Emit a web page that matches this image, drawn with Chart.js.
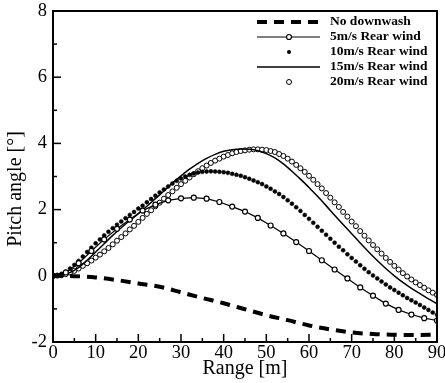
<!DOCTYPE html>
<html>
<head>
<meta charset="utf-8">
<script src="https://cdn.jsdelivr.net/npm/chart.js@4.4.1/dist/chart.umd.min.js"></script>
<style>
html,body{margin:0;padding:0;background:#fff;}
canvas{display:block;}
</style>
</head>
<body>
<canvas id="c" width="445" height="383"></canvas>
<script>
// ---- data ----
const seriesLabels = ['No downwash','5m/s Rear wind','10m/s Rear wind','15m/s Rear wind','20m/s Rear wind'];

const xNoDownwash = [0,5,10,15,20,25,30,35,40,45,50,55,60,65,70,75,80,85,90];
const yNoDownwash = [0,-0.01,-0.05,-0.13,-0.23,-0.33,-0.5,-0.67,-0.83,-1.01,-1.19,-1.34,-1.5,-1.62,-1.71,-1.76,-1.78,-1.79,-1.78];

const x5 = [0,3,6,9,12,15,18,21,24,27,30,33,36,39,42,45,48,51,54,57,60,63,66,69,72,75,78,81,84,87,90];
const y5 = [0,0.1,0.38,0.75,1.1,1.42,1.7,1.97,2.15,2.28,2.34,2.36,2.33,2.23,2.09,1.94,1.75,1.52,1.28,1.02,0.75,0.47,0.19,-0.08,-0.35,-0.6,-0.84,-1.03,-1.17,-1.28,-1.35];

const x10 = [0,1,2,3,4,5,6,7,8,9,10,11,12,13,14,15,16,17,18,19,20,21,22,23,24,25,26,27,28,29,30,31,32,33,34,35,36,37,38,39,40,41,42,43,44,45,46,47,48,49,50,51,52,53,54,55,56,57,58,59,60,61,62,63,64,65,66,67,68,69,70,71,72,73,74,75,76,77,78,79,80,81,82,83,84,85,86,87,88,89,90];
const y10 = [0,0.02,0.06,0.13,0.22,0.33,0.45,0.58,0.72,0.85,0.98,1.1,1.22,1.33,1.44,1.54,1.64,1.74,1.84,1.93,2.03,2.12,2.22,2.32,2.42,2.52,2.61,2.7,2.79,2.87,2.94,3.0,3.05,3.09,3.12,3.14,3.15,3.155,3.15,3.14,3.13,3.11,3.08,3.05,3.02,2.98,2.93,2.88,2.83,2.77,2.7,2.63,2.55,2.47,2.38,2.28,2.18,2.07,1.96,1.84,1.72,1.6,1.48,1.36,1.24,1.12,1.0,0.88,0.77,0.65,0.54,0.43,0.32,0.21,0.11,0.01,-0.08,-0.17,-0.26,-0.35,-0.43,-0.51,-0.59,-0.67,-0.74,-0.81,-0.88,-0.96,-1.03,-1.11,-1.18];

const x15 = [0,2,4,6,8,10,12,14,16,18,20,22,24,26,28,30,32,34,36,38,40,42,44,46,48,50,52,54,56,58,60,62,64,66,68,70,72,74,76,78,80,82,84,86,88,90];
const y15 = [0,0.02,0.1,0.25,0.47,0.72,0.97,1.22,1.45,1.67,1.88,2.1,2.33,2.56,2.8,3.02,3.22,3.4,3.55,3.67,3.76,3.81,3.83,3.82,3.78,3.69,3.56,3.38,3.16,2.92,2.67,2.4,2.12,1.83,1.55,1.27,0.99,0.72,0.46,0.22,0.0,-0.2,-0.38,-0.54,-0.7,-0.84];

const x20 = [0,1,2,3,4,5,6,7,8,9,10,11,12,13,14,15,16,17,18,19,20,21,22,23,24,25,26,27,28,29,30,31,32,33,34,35,36,37,38,39,40,41,42,43,44,45,46,47,48,49,50,51,52,53,54,55,56,57,58,59,60,61,62,63,64,65,66,67,68,69,70,71,72,73,74,75,76,77,78,79,80,81,82,83,84,85,86,87,88,89,90];
const y20 = [0,0.005,0.02,0.05,0.1,0.15,0.22,0.3,0.38,0.46,0.55,0.64,0.74,0.84,0.95,1.06,1.17,1.28,1.4,1.51,1.63,1.75,1.87,1.98,2.1,2.21,2.33,2.44,2.55,2.66,2.77,2.87,2.97,3.07,3.16,3.25,3.33,3.41,3.48,3.54,3.6,3.65,3.7,3.74,3.77,3.79,3.81,3.82,3.82,3.81,3.8,3.77,3.74,3.68,3.62,3.54,3.45,3.35,3.25,3.14,3.02,2.9,2.77,2.64,2.5,2.36,2.22,2.08,1.93,1.79,1.64,1.5,1.35,1.21,1.07,0.93,0.8,0.67,0.54,0.42,0.3,0.19,0.08,-0.02,-0.11,-0.2,-0.28,-0.36,-0.44,-0.51,-0.58];

const xTickValues = [0,10,20,30,40,50,60,70,80,90];
const yTickValues = [-2,0,2,4,6,8];
const xTitle = 'Range [m]';
const yTitle = 'Pitch angle [°]';

function pts(xs, ys){ return xs.map((x,i)=>({x:x, y:ys[i]})); }

const SERIF = '"Liberation Serif", "Times New Roman", serif';

const datasets = [
  {label:seriesLabels[0], data:pts(xNoDownwash,yNoDownwash), borderColor:'#000', borderWidth:4, borderDash:[10,7],
   pointRadius:0, cubicInterpolationMode:'monotone', fill:false, legendKind:'dash'},
  {label:seriesLabels[1], data:pts(x5,y5), borderColor:'#000', borderWidth:1.2, tension:0,
   pointRadius:2.5, pointBackgroundColor:'#fff', pointBorderColor:'#000', pointBorderWidth:1.2, fill:false, legendKind:'lineMarker'},
  {label:seriesLabels[2], data:pts(x10,y10), showLine:false, borderColor:'#000',
   pointRadius:2, pointBackgroundColor:'#000', pointBorderColor:'#000', pointBorderWidth:0.5, legendKind:'dot'},
  {label:seriesLabels[3], data:pts(x15,y15), borderColor:'#000', borderWidth:1.5, cubicInterpolationMode:'monotone',
   pointRadius:0, fill:false, legendKind:'line'},
  {label:seriesLabels[4], data:pts(x20,y20), showLine:false, borderColor:'#000',
   pointRadius:2.5, pointBackgroundColor:'#fff', pointBorderColor:'#000', pointBorderWidth:1, legendKind:'circle'}
];

const framePlugin = {
  id:'frameTicks',
  afterDatasetsDraw(chart){
    const ctx = chart.ctx, a = chart.chartArea;
    const xs = chart.scales.x, ys = chart.scales.y;
    ctx.save();
    ctx.strokeStyle = '#000';
    // minor/major ticks pointing inward
    ctx.lineWidth = 1.5;
    for (let v = 0; v <= 90; v += 5) {
      const px = xs.getPixelForValue(v);
      const len = (v % 10 === 0) ? 8 : 4;
      ctx.beginPath(); ctx.moveTo(px, a.bottom); ctx.lineTo(px, a.bottom - len); ctx.stroke();
    }
    for (let v = -2; v <= 8; v += 1) {
      const py = ys.getPixelForValue(v);
      const len = (v % 2 === 0) ? 8 : 4;
      ctx.beginPath(); ctx.moveTo(a.left, py); ctx.lineTo(a.left + len, py); ctx.stroke();
    }
    // frame
    ctx.lineWidth = 2;
    ctx.strokeRect(a.left, a.top, a.right - a.left, a.bottom - a.top);

    // y-axis title
    ctx.save();
    ctx.fillStyle = '#000';
    ctx.font = '20px ' + SERIF;
    ctx.textAlign = 'center';
    ctx.textBaseline = 'middle';
    ctx.translate(16, 189);
    ctx.rotate(-Math.PI/2);
    ctx.fillText(yTitle, 0, 0);
    ctx.restore();

    // legend
    const x0 = 257, x1 = 320, xm = 289, tx = 330;
    let y = 22;
    ctx.font = 'bold 13.5px ' + SERIF;
    ctx.textBaseline = 'middle';
    ctx.textAlign = 'left';
    ctx.fillStyle = '#000';
    chart.data.datasets.forEach(ds => {
      ctx.save();
      if (ds.legendKind === 'dash') {
        ctx.lineWidth = 4; ctx.setLineDash([10,7]);
        ctx.beginPath(); ctx.moveTo(x0, y); ctx.lineTo(x1, y); ctx.stroke();
      } else if (ds.legendKind === 'line' || ds.legendKind === 'lineMarker') {
        ctx.lineWidth = ds.borderWidth;
        ctx.beginPath(); ctx.moveTo(x0, y); ctx.lineTo(x1, y); ctx.stroke();
      }
      if (ds.legendKind === 'lineMarker' || ds.legendKind === 'circle') {
        ctx.lineWidth = ds.pointBorderWidth; ctx.fillStyle = '#fff';
        ctx.beginPath(); ctx.arc(xm, y, ds.pointRadius, 0, Math.PI*2); ctx.fill(); ctx.stroke();
      } else if (ds.legendKind === 'dot') {
        ctx.fillStyle = '#000';
        ctx.beginPath(); ctx.arc(xm, y, ds.pointRadius, 0, Math.PI*2); ctx.fill();
      }
      ctx.restore();
      ctx.fillText(ds.label, tx, y);
      y += 15;
    });
    ctx.restore();
  }
};

new Chart(document.getElementById('c'), {
  type:'line',
  data:{datasets:datasets},
  options:{
    responsive:false, animation:false, devicePixelRatio:1,
    layout:{padding:{top:11, right:8, left:0, bottom:0}},
    plugins:{legend:{display:false}, tooltip:{enabled:false}},
    scales:{
      x:{type:'linear', min:0, max:90,
        afterBuildTicks(s){ s.ticks = xTickValues.map(v=>({value:v})); },
        afterFit(s){ s.height = 41; s.paddingLeft = 0; s.paddingRight = 0; },
        grid:{display:false, drawTicks:false},
        border:{display:false},
        ticks:{color:'#000', font:{family:SERIF, size:18.5}, padding:0, maxRotation:0, autoSkip:false},
        title:{display:true, text:xTitle, color:'#000', font:{family:SERIF, size:20}, padding:{top:0,bottom:2}}
      },
      y:{type:'linear', min:-2, max:8,
        afterBuildTicks(s){ s.ticks = yTickValues.map(v=>({value:v})); },
        afterFit(s){ s.width = 53; s.paddingTop = 0; s.paddingBottom = 0; },
        grid:{display:false, drawTicks:false},
        border:{display:false},
        ticks:{color:'#000', font:{family:SERIF, size:18.5}, padding:6, autoSkip:false},
        title:{display:false, text:yTitle}
      }
    }
  },
  plugins:[framePlugin]
});
</script>
</body>
</html>
